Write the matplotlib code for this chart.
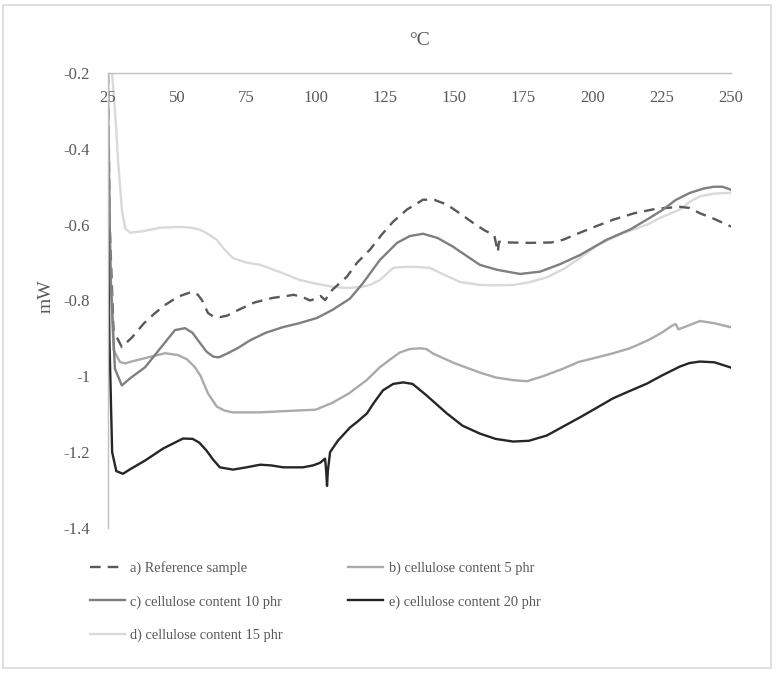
import matplotlib
matplotlib.use('Agg')
import matplotlib.pyplot as plt
from matplotlib.patches import Rectangle

plt.rcParams['font.family'] = ['Liberation Serif', 'DejaVu Serif']

# (temperature degC, heat flow mW)
ref_pts = [(25, -0.2), (25.6, -0.6), (27, -0.88), (30, -0.923), (33.7, -0.897), (38, -0.86),
           (42, -0.833), (46, -0.81), (50.3, -0.79), (55.3, -0.777), (57.5, -0.785), (59, -0.80),
           (61.1, -0.833), (63, -0.842), (65.4, -0.844), (68, -0.84), (72, -0.825), (78, -0.805),
           (84.6, -0.793), (89.6, -0.788), (92, -0.785), (95, -0.79), (98, -0.80), (100, -0.795),
           (101.8, -0.788), (103.4, -0.799), (106, -0.772), (111.3, -0.737), (115, -0.70),
           (119.6, -0.666), (124, -0.625), (128, -0.592), (133, -0.56), (138.8, -0.534),
           (143, -0.535), (147.4, -0.547), (152, -0.57), (156.8, -0.595), (161, -0.615),
           (164.5, -0.628), (165.8, -0.672), (166.2, -0.645), (170, -0.647), (177.4, -0.648),
           (185, -0.647), (189.3, -0.64), (195.5, -0.621), (201, -0.605), (207.4, -0.587),
           (215, -0.57), (223, -0.558), (231.6, -0.553), (235, -0.556), (238.8, -0.57),
           (244, -0.585), (248.5, -0.6), (250, -0.605)]

c5_pts = [(25, -0.2), (25.8, -0.7), (27, -0.93), (29.3, -0.962), (31.1, -0.966), (34, -0.96),
          (38.4, -0.952), (45.6, -0.939), (50.3, -0.944), (53.5, -0.955), (56.4, -0.976),
          (58.5, -1.0), (61.1, -1.045), (64.3, -1.08), (67, -1.09), (70, -1.095), (80, -1.095),
          (88, -1.092), (94, -1.09), (100, -1.088), (106, -1.07), (112, -1.045), (118.4, -1.01),
          (123.2, -0.976), (127, -0.955), (130.4, -0.937), (134, -0.928), (137.7, -0.926),
          (140, -0.928), (142.4, -0.94), (150, -0.965), (159.3, -0.99), (165, -1.003),
          (171.3, -1.01), (176.3, -1.013), (182, -1.0), (189.3, -0.98), (195, -0.962),
          (201.6, -0.95), (207, -0.94), (213.5, -0.926), (220, -0.905), (225, -0.885),
          (229, -0.865), (230, -0.862), (231, -0.876), (235, -0.865), (238.8, -0.854),
          (244, -0.86), (249.6, -0.87), (250, -0.87)]

c10_pts = [(25, -0.35), (26, -0.75), (27.5, -0.98), (30, -1.024), (33, -1.005), (38.4, -0.976),
           (44, -0.925), (49.2, -0.878), (52.8, -0.873), (55.5, -0.885), (57.5, -0.905),
           (60.6, -0.935), (63, -0.948), (65, -0.95), (68, -0.94), (72, -0.925), (76.3, -0.905),
           (82, -0.885), (88.3, -0.87), (94, -0.86), (100.5, -0.846), (106, -0.825),
           (112.4, -0.795), (117.1, -0.754), (123.2, -0.693), (129.4, -0.648), (134, -0.63),
           (138.8, -0.624), (144, -0.635), (149.6, -0.658), (153, -0.675), (159.3, -0.706),
           (165.5, -0.719), (173.8, -0.73), (181, -0.724), (188, -0.705), (195.5, -0.68),
           (205, -0.64), (213.5, -0.613), (220, -0.585), (225.5, -0.56), (230, -0.535),
           (235.2, -0.516), (240, -0.505), (243.7, -0.5), (247, -0.5), (249.6, -0.507),
           (250, -0.508)]

c15_pts = [(26.5, -0.2), (28, -0.35), (28.6, -0.428), (30, -0.56), (31.2, -0.61), (33, -0.621),
           (37, -0.618), (43.8, -0.608), (51, -0.606), (55, -0.608), (58.2, -0.613), (61, -0.624),
           (64.3, -0.64), (67, -0.665), (70.1, -0.688), (75, -0.70), (80, -0.706), (87.1, -0.725),
           (94.3, -0.746), (99.1, -0.754), (106.3, -0.764), (111.3, -0.767), (116, -0.765),
           (119.6, -0.759), (123.2, -0.746), (128, -0.714), (131, -0.712), (135.2, -0.711),
           (141.3, -0.714), (144.9, -0.727), (152.1, -0.751), (159.3, -0.759), (165, -0.76),
           (171.3, -0.759), (177, -0.752), (183.5, -0.739), (190, -0.715), (195, -0.69),
           (201.6, -0.655), (210, -0.625), (219.7, -0.6), (225, -0.58), (231.6, -0.56),
           (235, -0.54), (238.8, -0.525), (244, -0.518), (249.6, -0.516), (250, -0.516)]

c20_pts = [(25, -0.608), (25.5, -0.9), (26.5, -1.2), (28, -1.25), (30.4, -1.257), (33, -1.245),
           (38.4, -1.222), (45, -1.19), (52.1, -1.164), (55.6, -1.165), (58, -1.175),
           (60.6, -1.196), (63, -1.22), (65.4, -1.24), (70.1, -1.246), (75, -1.24), (80, -1.233),
           (84, -1.235), (88.3, -1.24), (95.4, -1.24), (99, -1.235), (101.6, -1.228),
           (103.4, -1.217), (103.8, -1.25), (104.1, -1.289), (104.4, -1.25), (105.2, -1.2),
           (108, -1.17), (112.4, -1.135), (115, -1.12), (118.5, -1.098), (121, -1.07),
           (124.3, -1.037), (128, -1.02), (131.6, -1.016), (135, -1.02), (140, -1.05),
           (147.4, -1.098), (153, -1.13), (159.3, -1.151), (165, -1.165), (171.3, -1.172),
           (177, -1.17), (183.5, -1.156), (190, -1.13), (195.5, -1.108), (201, -1.085),
           (207.4, -1.058), (213, -1.04), (219.7, -1.019), (225, -0.998), (231.6, -0.974),
           (235, -0.965), (238.8, -0.961), (244, -0.963), (249.6, -0.976), (250, -0.977)]

x_ticks = [25, 50, 75, 100, 125, 150, 175, 200, 225, 250]
y_ticks = [-0.2, -0.4, -0.6, -0.8, -1.0, -1.2, -1.4]
y_tick_labels = ['-0.2', '-0.4', '-0.6', '-0.8', '-1', '-1.2', '-1.4']

TXT = '#595959'

fig = plt.figure(figsize=(7.79, 6.76), dpi=100)
fig.patches.append(Rectangle((3 / 779, 1 - 668 / 676), 768 / 779, 663 / 676,
                             transform=fig.transFigure, fill=False,
                             edgecolor='#d9d9d9', linewidth=1.2))

ax = fig.add_axes([108 / 779, 1 - 528 / 676, 623 / 779, 455 / 676])


def draw(pts, **kw):
    xs = [p[0] for p in pts]
    ys = [p[1] for p in pts]
    return ax.plot(xs, ys, **kw)[0]


la = draw(ref_pts, color='#595959', lw=1.7, ls=(0, (4.5, 3)), label='a) Reference sample')
lb = draw(c5_pts, color='#aaaaaa', lw=1.7, label='b) cellulose content 5 phr')
lc = draw(c10_pts, color='#7f7f7f', lw=1.7, label='c) cellulose content 10 phr')
ld = draw(c15_pts, color='#d9d9d9', lw=1.7, label='d) cellulose content 15 phr')
le = draw(c20_pts, color='#262626', lw=1.7, label='e) cellulose content 20 phr')
# keep the lightest curve behind the others
ld.set_zorder(1.5)

ax.set_xlim(25, 250)
ax.set_ylim(-1.4, -0.2)
ax.set_xticks(x_ticks)
ax.set_yticks(y_ticks)
ax.set_yticklabels(y_tick_labels)

for s in ['right', 'bottom']:
    ax.spines[s].set_visible(False)
for s in ['top', 'left']:
    ax.spines[s].set_color('#bfbfbf')
    ax.spines[s].set_linewidth(1.0)

ax.tick_params(axis='x', top=True, labeltop=True, bottom=False, labelbottom=False,
               length=0, pad=-24, labelsize=12, labelcolor=TXT)
ax.tick_params(axis='y', length=0, pad=13, labelsize=12, labelcolor=TXT)

ax.set_title('°C', fontsize=14, color=TXT, pad=20)
ax.set_ylabel('mW', fontsize=14, color=TXT)
ax.yaxis.set_label_coords(-0.085, 0.51)

fig.legend(handles=[la, lc, ld, lb, le], ncol=2, loc='upper left',
           bbox_to_anchor=(90 / 779, 1 - 561 / 676), frameon=False,
           fontsize=10.4, labelcolor=TXT, handlelength=2.45, handletextpad=0.35,
           columnspacing=4.5, labelspacing=1.4, borderpad=0, borderaxespad=0)

fig.savefig('out.png', dpi=100)
